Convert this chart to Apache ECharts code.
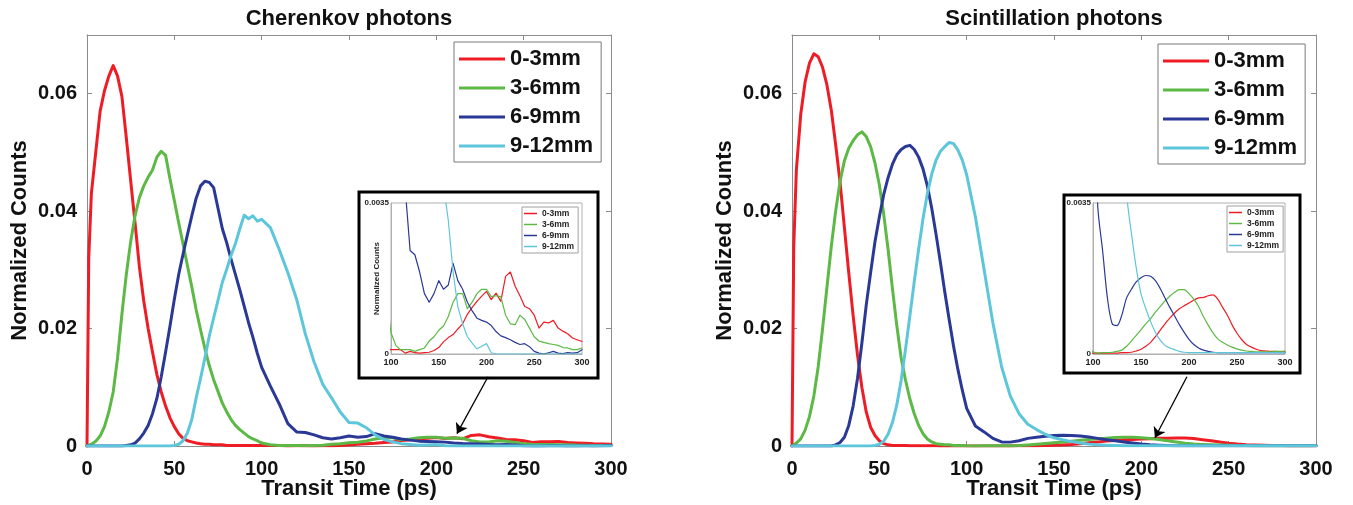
<!DOCTYPE html>
<html>
<head>
<meta charset="utf-8">
<script src="https://cdn.jsdelivr.net/npm/echarts@6/dist/echarts.min.js"></script>
<style>
  html, body { margin: 0; padding: 0; background: #ffffff; }
  #chart { width: 1353px; height: 505px; }
</style>
</head>
<body>
<div id="chart"></div>
<script>
// ---- Data ---------------------------------------------------------------
// Transit time sample points (ps)
const timePs = [0, 1,
  2.5, 5, 7.5, 10, 12.5, 15, 17.5, 20, 22.5, 25,
  27.5, 30, 32.5, 35, 37.5, 40, 42.5, 45, 47.5, 50,
  52.5, 55, 57.5, 60, 62.5, 65, 67.5, 70, 72.5, 75,
  77.5, 80, 82.5, 85, 87.5, 90, 92.5, 95, 97.5, 100,
  105, 110, 115, 120, 125, 130, 135, 140, 145, 150,
  155, 160, 165, 170, 175, 180, 185, 190, 195, 200,
  205, 210, 215, 220, 225, 230, 235, 240, 245, 250,
  255, 260, 265, 270, 275, 280, 285, 290, 295, 300];

const depthLabels = ['0-3mm', '3-6mm', '6-9mm', '9-12mm'];

// Cherenkov photons, normalized counts per depth range
const cher03 = [0, 0.032,
  0.043, 0.050, 0.057, 0.0605, 0.0630, 0.0648, 0.0630, 0.0595, 0.0525, 0.0452,
  0.0380, 0.0305, 0.0247, 0.0200, 0.0160, 0.0122, 0.0092, 0.0068, 0.0048, 0.0033,
  0.0021, 0.0013, 0.0009, 0.0007, 0.0005, 0.0004, 0.0003, 0.0003, 0.0002, 0.0002,
  0.0002, 0.0001, 0.0001, 0.0001, 0.0001, 0.0001, 0.0001, 0.0001, 0.0001, 0.0001,
  0.0001, 0.0001, 0.00002, 0.00006, 0.00003, 0.00002, 0.00003, 0.00004, 0.00008, 0.00015,
  0.00028, 0.00038, 0.00045, 0.00058, 0.0007, 0.00092, 0.00108, 0.00122, 0.00134, 0.00145,
  0.00126, 0.00141, 0.00122, 0.0018, 0.0019, 0.00157, 0.00135, 0.0011, 0.00105, 0.0009,
  0.0006, 0.00074, 0.00072, 0.00078, 0.0006, 0.00053, 0.00047, 0.00037, 0.00033, 0.00029];

const cher36 = [0, 0.0001,
  0.0003, 0.0008, 0.0017, 0.0033, 0.0058, 0.0092, 0.0150, 0.0225, 0.0292, 0.0348,
  0.0392, 0.0423, 0.0443, 0.0458, 0.0470, 0.0492, 0.0502, 0.0495, 0.0455, 0.0418,
  0.0380, 0.0344, 0.0307, 0.0271, 0.0232, 0.0198, 0.0166, 0.0137, 0.0113, 0.0093,
  0.0073, 0.0058, 0.0045, 0.0035, 0.0028, 0.0022, 0.0016, 0.0012, 0.0009, 0.0005,
  0.0002, 0.0001, 0.0001, 0.0001, 0.00006, 0.0001, 0.00014, 0.0003, 0.0004, 0.00055,
  0.00065, 0.00087, 0.0012, 0.0014, 0.0014, 0.00105, 0.0012, 0.0014, 0.0015, 0.0015,
  0.00133, 0.00135, 0.00133, 0.0009, 0.0007, 0.00068, 0.0009, 0.0008, 0.0006, 0.0004,
  0.0003, 0.00027, 0.00024, 0.00022, 0.0002, 0.00015, 0.00014, 0.0001, 0.0001, 0.00014];

const cher69 = [0, 0,
  0, 0, 0, 0, 0, 0, 0, 0, 0.0001, 0.0002,
  0.0005, 0.0012, 0.0022, 0.0035, 0.0055, 0.0081, 0.0118, 0.0160, 0.0204, 0.0250,
  0.0292, 0.0327, 0.0360, 0.0392, 0.0422, 0.0443, 0.0451, 0.0449, 0.0440, 0.0405,
  0.0370, 0.0346, 0.0318, 0.0292, 0.0266, 0.0238, 0.0210, 0.0185, 0.0158, 0.0134,
  0.0102, 0.0072, 0.0038, 0.0024, 0.0023, 0.0019, 0.0014, 0.0012, 0.0014, 0.0017,
  0.0015, 0.0016, 0.0021, 0.0017, 0.0015, 0.0012, 0.0010, 0.00083, 0.00078, 0.00074,
  0.00066, 0.00052, 0.00042, 0.00038, 0.00033, 0.00027, 0.00022, 0.00024, 0.00017, 0.00006,
  0.00002, 0, 0.00003, 0.00006, 0.00002, 0.00001, 0.00003, 0.00002, 0.00003, 0.0001];

const cher912 = [0, 0,
  0, 0, 0, 0, 0, 0, 0, 0, 0, 0,
  0, 0, 0, 0, 0, 0, 0, 0, 0, 0.0001,
  0.0003, 0.0009, 0.0022, 0.0045, 0.0082, 0.0115, 0.0150, 0.0187, 0.0218, 0.0248,
  0.0279, 0.0301, 0.0325, 0.0345, 0.0370, 0.0393, 0.0387, 0.0392, 0.0383, 0.0386,
  0.0372, 0.0335, 0.0295, 0.0250, 0.0191, 0.0143, 0.0105, 0.0082, 0.0058, 0.0040,
  0.0039, 0.0031, 0.0019, 0.0011, 0.0007, 0.0004, 0.00025, 0.00012, 0.00018, 0.00024,
  0.00003, 0, 0, 0, 0, 0, 0, 0, 0, 0,
  0, 0, 0, 0, 0, 0, 0, 0, 0, 0];

// Scintillation photons, normalized counts per depth range
const scint03 = [0, 0.034,
  0.047, 0.0565, 0.0620, 0.0652, 0.0668, 0.0663, 0.0645, 0.0615, 0.0572, 0.0513,
  0.0450, 0.0372, 0.0295, 0.0222, 0.0155, 0.0100, 0.0058, 0.0032, 0.0018, 0.0009,
  0.0004, 0.0002, 0.0001, 0.0001, 0.0001, 0.0001, 0.00005, 0.00005, 0.00004, 0.00004,
  0.00003, 0.00003, 0.00003, 0.00002, 0.00002, 0.00002, 0.00002, 0.00002, 0.00002, 0.00002,
  0.00002, 0.00002, 0.00002, 0.00002, 0.00002, 0.00003, 0.00003, 0.00004, 0.00007, 0.00011,
  0.00018, 0.00027, 0.0004, 0.00055, 0.0007, 0.00083, 0.00095, 0.00105, 0.00112, 0.00118,
  0.00125, 0.0013, 0.00131, 0.00135, 0.00137, 0.00127, 0.00108, 0.0009, 0.00067, 0.00048,
  0.00033, 0.00022, 0.00016, 0.00011, 0.00008, 0.00007, 0.00006, 0.00006, 0.00005, 0.00005];

const scint36 = [0, 0.0002,
  0.0005, 0.0012, 0.0027, 0.0050, 0.0085, 0.0135, 0.0200, 0.0270, 0.0340, 0.0400,
  0.0450, 0.0486, 0.0507, 0.0520, 0.0530, 0.0535, 0.0527, 0.0510, 0.0482, 0.0445,
  0.0395, 0.0335, 0.0268, 0.0205, 0.0150, 0.0112, 0.0080, 0.0055, 0.0035, 0.0021,
  0.0012, 0.0007, 0.0004, 0.0003, 0.0002, 0.0002, 0.0001, 0.0001, 0.0001, 0.00005,
  0.00002, 0.00003, 0.00003, 0.00004, 0.00006, 0.00009, 0.00018, 0.0003, 0.00043, 0.00056,
  0.0007, 0.00082, 0.00097, 0.0011, 0.00123, 0.00134, 0.00143, 0.00149, 0.00149, 0.0014,
  0.00127, 0.0011, 0.00087, 0.00067, 0.00049, 0.00035, 0.00027, 0.00021, 0.00016, 0.00012,
  0.00009, 0.00007, 0.00006, 0.00005, 0.00005, 0.00005, 0.00005, 0.00006, 0.00006, 0.00007];

const scint69 = [0, 0,
  0, 0, 0, 0, 0, 0, 0, 0, 0, 0.0002,
  0.0006, 0.0015, 0.0035, 0.0068, 0.0115, 0.0175, 0.0240, 0.0295, 0.0348, 0.0390,
  0.0428, 0.0457, 0.0480, 0.0496, 0.0505, 0.0510, 0.0512, 0.0505, 0.0492, 0.0472,
  0.0443, 0.0405, 0.0360, 0.0312, 0.0262, 0.0215, 0.0170, 0.0130, 0.0095, 0.0064,
  0.0034, 0.0024, 0.0013, 0.0007, 0.00066, 0.0009, 0.0013, 0.0015, 0.00167, 0.00177,
  0.00182, 0.0018, 0.0017, 0.00152, 0.0013, 0.00108, 0.00088, 0.00068, 0.0005, 0.00034,
  0.00022, 0.00014, 0.00009, 0.00006, 0.00004, 0.00003, 0.00003, 0.00003, 0.00003, 0.00003,
  0.00003, 0.00003, 0.00003, 0.00003, 0.00003, 0.00003, 0.00003, 0.00003, 0.00003, 0.00003];

const scint912 = [0, 0,
  0, 0, 0, 0, 0, 0, 0, 0, 0, 0,
  0, 0, 0, 0, 0, 0, 0, 0, 0.0001, 0.0003,
  0.0008, 0.0020, 0.0040, 0.0070, 0.0112, 0.0165, 0.0222, 0.0280, 0.0335, 0.0387,
  0.0430, 0.0463, 0.0487, 0.0502, 0.0510, 0.0517, 0.0515, 0.0504, 0.0487, 0.0462,
  0.0390, 0.0300, 0.0210, 0.0135, 0.0085, 0.0055, 0.0037, 0.0028, 0.0020, 0.0014,
  0.00105, 0.00075, 0.0005, 0.00032, 0.0002, 0.00014, 0.0001, 0.00006, 0.00004, 0.00003,
  0.00003, 0.00003, 0.00003, 0.00003, 0.00003, 0.00003, 0.00003, 0.00003, 0.00003, 0.00003,
  0.00003, 0.00003, 0.00003, 0.00003, 0.00003, 0.00003, 0.00003, 0.00003, 0.00003, 0.00003];

const mainYTicks = [0, 0.02, 0.04, 0.06];
const insetXTicks = [100, 150, 200, 250, 300];

// ---- Styling ----------------------------------------------------------
const FONT = '"Liberation Sans", Arial, Helvetica, sans-serif';
const COLORS = ['#ee1c25', '#5cb946', '#2b3996', '#5ec6da'];
const AXIS_GREY = '#8c8c8c';

const chart = echarts.init(document.getElementById('chart'), null, { renderer: 'canvas' });

function pairs(values) {
  return timePs.map((t, i) => [t, values[i]]);
}

function lineSeries(name, color, values, xi, yi, width, smooth, extra) {
  return Object.assign({
    type: 'line',
    name: name,
    xAxisIndex: xi,
    yAxisIndex: yi,
    data: pairs(values),
    showSymbol: false,
    symbol: 'none',
    smooth: smooth,
    clip: true,
    animation: false,
    silent: true,
    itemStyle: { color: color },
    lineStyle: { color: color, width: width, cap: 'round', join: 'round' }
  }, extra || {});
}

function arrowMark(from, to) {
  return {
    markLine: {
      silent: true,
      animation: false,
      symbol: ['none', 'arrow'],
      symbolSize: 10,
      label: { show: false },
      lineStyle: { color: '#000', width: 1.3, type: 'solid' },
      data: [[{ coord: from }, { coord: to }]]
    }
  };
}

function mainXAxis(grid) {
  return [{
    gridIndex: grid, type: 'value', min: 0, max: 300, interval: 50, position: 'bottom',
    axisLine: { show: true, onZero: false, lineStyle: { color: AXIS_GREY, width: 1 } },
    axisTick: { show: true, inside: true, length: 5, lineStyle: { color: AXIS_GREY } },
    axisLabel: { color: '#111', fontFamily: FONT, fontWeight: 'bold', fontSize: 20, margin: 13 },
    splitLine: { show: false },
    name: 'Transit Time (ps)', nameLocation: 'middle', nameGap: 32, nameMoveOverlap: false,
    nameTextStyle: { color: '#111', fontFamily: FONT, fontWeight: 'bold', fontSize: 22 }
  }, {
    gridIndex: grid, type: 'value', min: 0, max: 300, interval: 50, position: 'top',
    axisLine: { show: true, onZero: false, lineStyle: { color: AXIS_GREY, width: 1 } },
    axisTick: { show: true, inside: true, length: 5, lineStyle: { color: AXIS_GREY } },
    axisLabel: { show: false }, splitLine: { show: false }
  }];
}

function mainYAxis(grid) {
  return [{
    gridIndex: grid, type: 'value', min: 0, max: 0.07, interval: 0.02, position: 'left',
    axisLine: { show: true, onZero: false, lineStyle: { color: AXIS_GREY, width: 1 } },
    axisTick: { show: true, inside: true, length: 5, lineStyle: { color: AXIS_GREY } },
    axisLabel: {
      color: '#111', fontFamily: FONT, fontWeight: 'bold', fontSize: 20, margin: 10,
      showMaxLabel: false,
      formatter: v => (mainYTicks.some(t => Math.abs(t - v) < 1e-9) ? String(+v.toFixed(2)) : '')
    },
    splitLine: { show: false },
    name: 'Normalized Counts', nameLocation: 'middle', nameGap: 56, nameRotate: 90,
    nameMoveOverlap: false,
    nameTextStyle: { color: '#111', fontFamily: FONT, fontWeight: 'bold', fontSize: 22 }
  }, {
    gridIndex: grid, type: 'value', min: 0, max: 0.07, interval: 0.02, position: 'right',
    axisLine: { show: true, onZero: false, lineStyle: { color: AXIS_GREY, width: 1 } },
    axisTick: { show: true, inside: true, length: 5, lineStyle: { color: AXIS_GREY } },
    axisLabel: { show: false }, splitLine: { show: false }
  }];
}

function insetXAxis(grid) {
  return {
    gridIndex: grid, type: 'value', min: insetXTicks[0], max: insetXTicks[insetXTicks.length - 1],
    interval: 50, position: 'bottom',
    axisLine: { show: true, onZero: false, lineStyle: { color: '#b0b0b0', width: 1 } },
    axisTick: { show: false },
    axisLabel: { color: '#222', fontFamily: FONT, fontWeight: 'bold', fontSize: 9, margin: 4 },
    splitLine: { show: false }
  };
}

function insetYAxis(grid, withName) {
  const ax = {
    gridIndex: grid, type: 'value', min: 0, max: 0.0035, interval: 0.0035, position: 'left',
    axisLine: { show: true, onZero: false, lineStyle: { color: '#b0b0b0', width: 1 } },
    axisTick: { show: false },
    axisLabel: {
      color: '#222', fontFamily: FONT, fontWeight: 'bold', fontSize: 8, margin: 2,
      formatter: v => (v === 0 ? '0' : '0.0035')
    },
    splitLine: { show: false }
  };
  if (withName) {
    Object.assign(ax, {
      name: 'Normalized Counts', nameLocation: 'middle', nameGap: 10, nameRotate: 90,
      nameMoveOverlap: false,
      nameTextStyle: { color: '#222', fontFamily: FONT, fontWeight: 'bold', fontSize: 8 }
    });
  }
  return ax;
}

function mainLegend(left, top) {
  return {
    left: left, top: top, orient: 'vertical', icon: 'rect',
    itemWidth: 46, itemHeight: 3, itemGap: 7,
    padding: [6, 8, 5, 5],
    borderColor: '#7a7a7a', borderWidth: 1, backgroundColor: '#fff',
    selectedMode: false,
    itemStyle: { borderWidth: 0 },
    textStyle: { color: '#111', fontFamily: FONT, fontWeight: 'bold', fontSize: 22, lineHeight: 22 },
    data: depthLabels
  };
}

function insetLegend(left, top) {
  return {
    left: left, top: top, orient: 'vertical', icon: 'rect',
    itemWidth: 13, itemHeight: 1.5, itemGap: 2,
    padding: [2, 4, 2, 2],
    borderColor: '#a0a0a0', borderWidth: 1, backgroundColor: '#fff',
    selectedMode: false,
    itemStyle: { borderWidth: 0 },
    textStyle: { color: '#222', fontFamily: FONT, fontWeight: 'bold', fontSize: 8.5, lineHeight: 9 },
    data: depthLabels
  };
}

const cherSets = [cher03, cher36, cher69, cher912];
const scintSets = [scint03, scint36, scint69, scint912];

const series = [];
// Cherenkov main panel (grid 0) and its tail inset (grid 2)
cherSets.forEach((vals, i) => {
  series.push(lineSeries(depthLabels[i], COLORS[i], vals, 0, 0, 3, false,
    i === 3 ? arrowMark([229.6, 0.0118], [211.8, 0.0021]) : null));
});
cherSets.forEach((vals, i) => {
  series.push(lineSeries(depthLabels[i], COLORS[i], vals, 4, 4, 1.2, false, { z: 5 }));
});
// Scintillation main panel (grid 1) and its tail inset (grid 3)
scintSets.forEach((vals, i) => {
  series.push(lineSeries(depthLabels[i], COLORS[i], vals, 2, 2, 3, false,
    i === 3 ? arrowMark([226.1, 0.0118], [207.8, 0.0014]) : null));
});
scintSets.forEach((vals, i) => {
  series.push(lineSeries(depthLabels[i], COLORS[i], vals, 5, 5, 1.2, 0.3, { z: 5 }));
});

const option = {
  backgroundColor: '#ffffff',
  animation: false,
  title: [
    { text: 'Cherenkov photons', left: 349, top: 8, textAlign: 'center', padding: 0,
      textStyle: { color: '#111', fontFamily: FONT, fontWeight: 'bold', fontSize: 22 } },
    { text: 'Scintillation photons', left: 1054, top: 8, textAlign: 'center', padding: 0,
      textStyle: { color: '#111', fontFamily: FONT, fontWeight: 'bold', fontSize: 22 } }
  ],
  grid: [
    { left: 87, top: 35, width: 524, height: 413, containLabel: false },
    { left: 792, top: 35, width: 524, height: 413, containLabel: false },
    { left: 391, top: 203, width: 191, height: 151, show: true, backgroundColor: '#fff',
      borderColor: '#b0b0b0', borderWidth: 1 },
    { left: 1093, top: 203, width: 192, height: 151, show: true, backgroundColor: '#fff',
      borderColor: '#b0b0b0', borderWidth: 1 }
  ],
  xAxis: [
    ...mainXAxis(0),
    ...mainXAxis(1),
    insetXAxis(2),
    insetXAxis(3)
  ],
  yAxis: [
    ...mainYAxis(0),
    ...mainYAxis(1),
    insetYAxis(2, true),
    insetYAxis(3, false)
  ],
  legend: [
    mainLegend(454, 42),
    mainLegend(1158, 44),
    insetLegend(522, 207),
    insetLegend(1227, 206)
  ],
  graphic: [
    { type: 'rect', z: 10, silent: true,
      shape: { x: 359, y: 192, width: 239, height: 186 },
      style: { fill: 'none', stroke: '#000', lineWidth: 3 } },
    { type: 'rect', z: 10, silent: true,
      shape: { x: 1064, y: 195, width: 236, height: 178 },
      style: { fill: 'none', stroke: '#000', lineWidth: 3 } }
  ],
  series: series
};

chart.setOption(option);
</script>
</body>
</html>
